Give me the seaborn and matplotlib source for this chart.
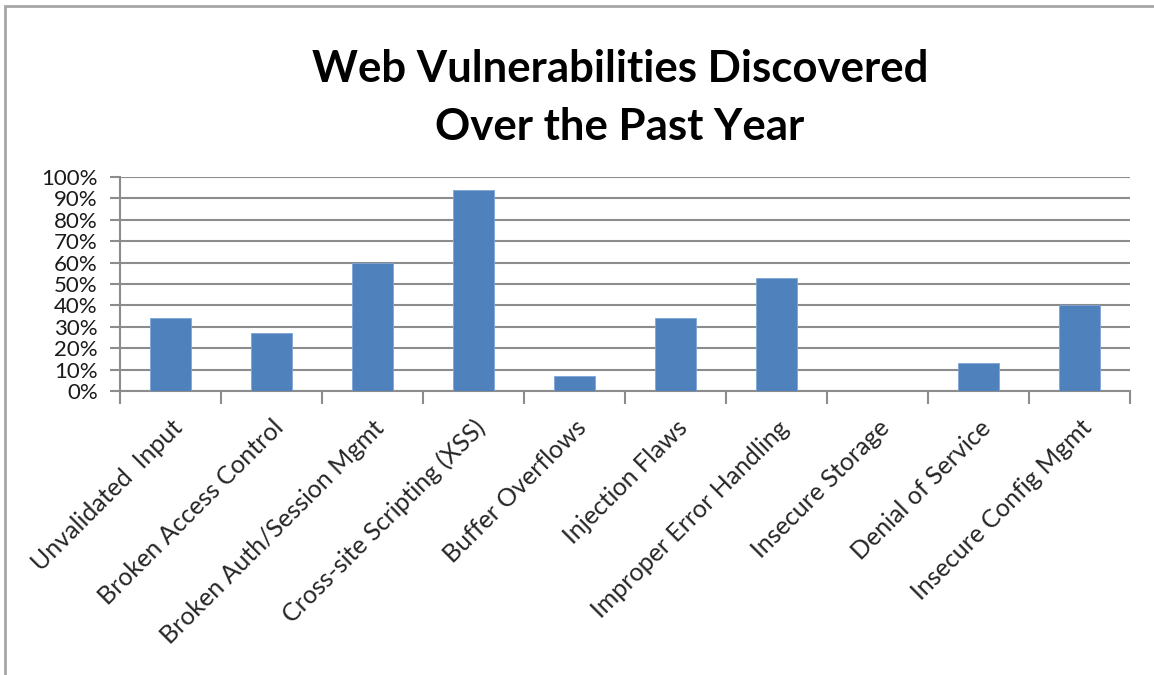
import matplotlib
matplotlib.use("Agg")
import matplotlib.pyplot as plt
import seaborn as sns
import pandas as pd
from matplotlib.ticker import PercentFormatter, FixedLocator
from matplotlib.patches import Rectangle

categories = ["Unvalidated  Input", "Broken Access Control", "Broken Auth/Session Mgmt",
              "Cross-site Scripting (XSS)", "Buffer Overflows", "Injection Flaws",
              "Improper Error Handling", "Insecure Storage", "Denial of Service",
              "Insecure Config Mgmt"]
values = [0.34, 0.27, 0.60, 0.94, 0.07, 0.34, 0.53, 0.0, 0.13, 0.40]
title = "Web Vulnerabilities Discovered\nOver the Past Year"

sns.set_theme(style="white")
plt.rcParams['font.family'] = ['Lato', 'DejaVu Sans']

df = pd.DataFrame({"cat": categories, "val": values})

fig = plt.figure(figsize=(11.54, 6.75), dpi=100)
ax = fig.add_axes([120/1154, 1-391/675, (1130-120)/1154, (391-177)/675])

sns.barplot(data=df, x="cat", y="val", color="#4F81BD", width=0.4,
            saturation=1, ax=ax, zorder=3, edgecolor="#7FA6D6", linewidth=0.6)

ax.set_xlim(-0.5, len(categories) - 0.5)
ax.set_ylim(0, 1.0)
ax.set_yticks([i/10 for i in range(11)])
ax.yaxis.set_major_formatter(PercentFormatter(1.0, decimals=0))
ax.yaxis.grid(True, color="#8C8C8C", linewidth=1.5, zorder=0)
ax.set_axisbelow(True)
ax.set_xlabel("")
ax.set_ylabel("")

for s in ["top", "right"]:
    ax.spines[s].set_visible(False)
for s in ["left", "bottom"]:
    ax.spines[s].set_color("#8C8C8C")
    ax.spines[s].set_linewidth(1.5)

ax.tick_params(axis="y", which="major", direction="out", length=7, width=1.5,
               color="#8C8C8C", labelsize=16, labelcolor="#1a1a1a", pad=9, left=True)
ax.tick_params(axis="x", which="major", length=0, labelsize=18, labelcolor="#262626", pad=18)
ax.xaxis.set_minor_locator(FixedLocator([i - 0.5 for i in range(len(categories) + 1)]))
ax.tick_params(axis="x", which="minor", direction="out", length=9, width=1.5,
               color="#8C8C8C", bottom=True)

for lab in ax.get_xticklabels():
    lab.set_rotation(45)
    lab.set_ha("right")
    lab.set_va("top")
    lab.set_rotation_mode("anchor")

fig.text(620/1154, 1-98/675, title, ha="center", va="center", fontsize=31.5,
         fontweight="bold", color="black", linespacing=1.55)

fig.patches.append(Rectangle((5/1154, -0.1), 1.2, 1 - 6/675 + 0.1, transform=fig.transFigure,
                             fill=False, edgecolor="#A6A6A6", linewidth=2, zorder=0))

fig.savefig("out.png", dpi=100, facecolor="white")
